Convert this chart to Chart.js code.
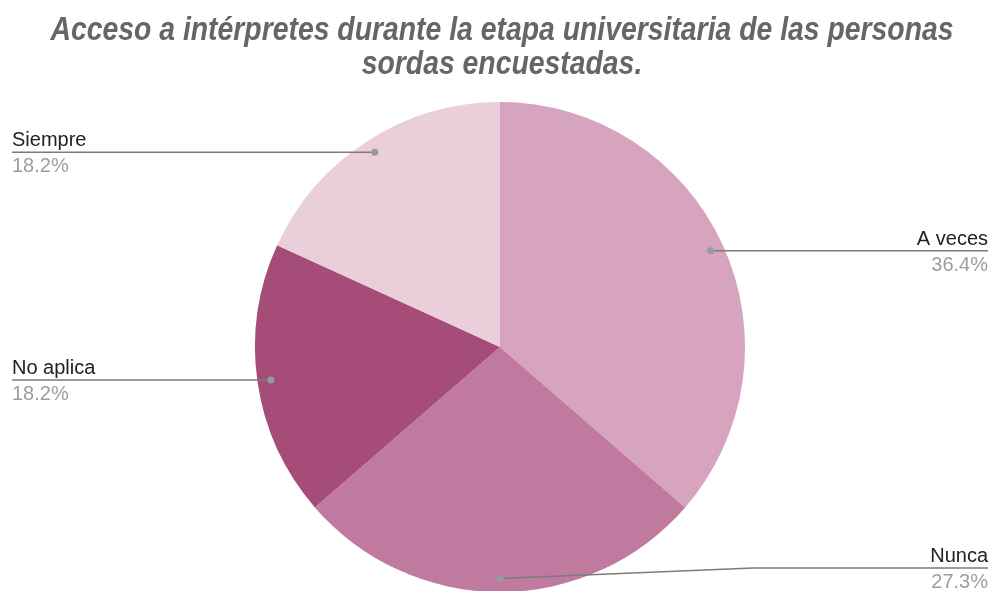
<!DOCTYPE html>
<html>
<head>
<meta charset="utf-8">
<script src="https://cdn.jsdelivr.net/npm/chart.js@4.4.1/dist/chart.umd.min.js"></script>
<style>
  html, body { margin: 0; padding: 0; background: #fff; overflow: hidden; }
  #wrap { width: 990px; height: 600px; position: relative; }
</style>
</head>
<body>
<div id="wrap"><canvas id="pie"></canvas></div>
<script>
var titleLines = ["Acceso a intérpretes durante la etapa universitaria de las personas", "sordas encuestadas."];
var categories = ["A veces", "Nunca", "No aplica", "Siempre"];
var percents = [36.4, 27.3, 18.2, 18.2];
var sliceColors = ["#d6a4bf", "#c07a9f", "#a54c78", "#eacfdb"];

// title drawn by hand: the original uses a narrower face than we have
var narrowTitle = {
    id: 'narrowTitle',
    afterDraw: function(chart) {
        var ctx = chart.ctx;
        ctx.save();
        ctx.font = 'italic bold 34px "Liberation Sans", Arial, sans-serif';
        ctx.fillStyle = '#666666';
        ctx.textAlign = 'center';
        ctx.textBaseline = 'alphabetic';
        var baselines = [40, 74];
        for (var i = 0; i < titleLines.length; i++) {
            ctx.save();
            ctx.translate(502, baselines[i]);
            ctx.scale(0.834, 1);
            ctx.fillText(titleLines[i], 0, 0);
            ctx.restore();
        }
        ctx.restore();
    }
};

// leader lines + labels, google-sheets style
var leaderLabels = {
    id: 'leaderLabels',
    afterDraw: function(chart) {
        var ctx = chart.ctx;
        var meta = chart.getDatasetMeta(0);
        var W = 990, H = 591;
        ctx.save();
        meta.data.forEach(function(arc, i) {
            var mid = (arc.startAngle + arc.endAngle) / 2;
            var r = arc.outerRadius * 0.945;
            var dx = arc.x + Math.cos(mid) * r;
            var dy = arc.y + Math.sin(mid) * r;
            var right = Math.cos(mid) >= -0.01;
            var ly = Math.min(dy, H - 23);
            var endX = right ? W - 2 : 12;

            ctx.strokeStyle = '#7b7b7b';
            ctx.lineWidth = 1.5;
            ctx.beginPath();
            ctx.moveTo(dx, dy);
            if (ly != dy) {
                ctx.lineTo(endX - 235, ly);
            }
            ctx.lineTo(endX, ly);
            ctx.stroke();

            ctx.fillStyle = '#9a9a9a';
            ctx.beginPath();
            ctx.arc(dx, dy, 3.5, 0, Math.PI * 2);
            ctx.fill();

            ctx.textAlign = right ? 'right' : 'left';
            ctx.textBaseline = 'alphabetic';
            ctx.font = '20px "Liberation Sans", Arial, sans-serif';
            ctx.fillStyle = '#222222';
            ctx.fillText(categories[i], endX, ly - 6);
            ctx.fillStyle = '#9e9e9e';
            ctx.fillText(percents[i].toFixed(1) + '%', endX, ly + 20);
        });
        ctx.restore();
    }
};

new Chart(document.getElementById('pie'), {
    type: 'pie',
    data: {
        labels: categories,
        datasets: [{
            data: percents,
            backgroundColor: sliceColors,
            borderWidth: 0,
            hoverOffset: 0
        }]
    },
    options: {
        responsive: true,
        maintainAspectRatio: false,
        animation: false,
        layout: { padding: { left: 10, right: 0, top: 102, bottom: 8 } },
        plugins: {
            legend: { display: false },
            tooltip: { enabled: false },
            title: { display: false }
        }
    },
    plugins: [narrowTitle, leaderLabels]
});
</script>
</body>
</html>
